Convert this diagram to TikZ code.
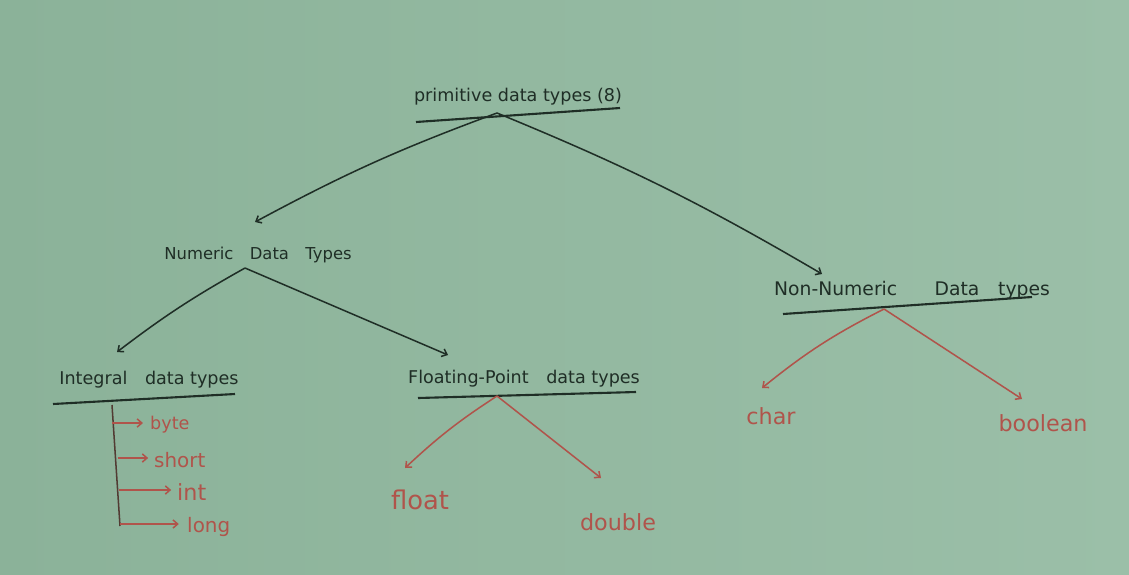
\documentclass[tikz,border=0pt]{standalone}
\usepackage{fontspec}
\setmainfont{DejaVu Sans}
\usetikzlibrary{arrows.meta}
\definecolor{board}{HTML}{8BB299}
\definecolor{boardr}{HTML}{9BBFA8}
\definecolor{ink}{HTML}{1F2E26}
\definecolor{redink}{HTML}{B0544B}
\tikzset{
  ink/.style={draw=ink, line width=1.3pt},
  uline/.style={draw=ink, line width=1.8pt},
  redline/.style={draw=redink, line width=1.3pt},
  inkarrow/.style={ink, -{Straight Barb[length=4pt,width=7pt]}},
  redarrow/.style={redline, -{Straight Barb[length=4pt,width=7pt]}},
  blacklabel/.style={text=ink, inner sep=0pt, font=\fontsize{15}{17}\selectfont},
  redlabel/.style={text=redink, inner sep=0pt, font=\fontsize{19}{21}\selectfont},
  smallred/.style={text=redink, inner sep=0pt, font=\fontsize{17}{19}\selectfont, anchor=west},
}
\begin{document}
\begin{tikzpicture}[x=0.03cm,y=-0.03cm]
\shade[left color=board, right color=boardr] (0,0) rectangle (1129,574);
\useasboundingbox (0,0) rectangle (1129,574);

% root
\node[blacklabel] (prim) at (518,97) {primitive data types (8)};
\coordinate (primL) at (416,122);
\coordinate (primR) at (620,108);
\draw[uline] (primL) -- (primR);
\coordinate (primApex) at (497,113);

% numeric
\node[blacklabel, font=\fontsize{14}{16}\selectfont] (num) at (258,255) {Numeric\quad Data\quad Types};
\coordinate (numTip) at (255,222);
\coordinate (numApex) at (245,268);

% non-numeric
\node[blacklabel, font=\fontsize{16}{18}\selectfont] (non) at (912,290) {Non-Numeric\qquad Data\quad types};
\coordinate (nonTip) at (822,274);
\coordinate (nonL) at (783,314);
\coordinate (nonR) at (1032,297);
\draw[uline] (nonL) -- (nonR);
\coordinate (nonApex) at (884,309);

\draw[inkarrow] (primApex) to[bend right=4] (numTip);
\draw[inkarrow] (primApex) to[bend left=4] (nonTip);

% integral
\node[blacklabel] (intg) at (149,380) {Integral\quad data types};
\coordinate (intL) at (53,404);
\coordinate (intR) at (235,394);
\draw[uline] (intL) -- (intR);
\coordinate (intTip) at (117,352);

% floating
\node[blacklabel] (flt) at (524,379) {Floating-Point\quad data types};
\coordinate (fltL) at (418,398);
\coordinate (fltR) at (636,392);
\draw[uline] (fltL) -- (fltR);
\coordinate (fltTip) at (448,355);
\coordinate (fltApex) at (497,396);

\draw[inkarrow] (numApex) to[bend right=4] (intTip);
\draw[inkarrow] (numApex) -- (fltTip);

% integral members
\coordinate (vTop) at (112,405);
\coordinate (vBot) at (120,526);
\draw[ink, draw=ink!65!redink] (vTop) -- (vBot);
\node[smallred, font=\fontsize{15}{17}\selectfont] (byte) at (150,425) {byte};
\node[smallred] (short) at (154,460) {short};
\node[smallred, font=\fontsize{19}{21}\selectfont] (int) at (177,492) {int};
\node[smallred] (long) at (187,527) {long};
\coordinate (bS) at (112.3,423);
\coordinate (sS) at (117.5,458);
\coordinate (iS) at (119,490);
\coordinate (lS) at (120,524);
\draw[redarrow] (bS) -- ([xshift=-6pt]bS -| byte.west);
\draw[redarrow] (sS) -- ([xshift=-5pt]sS -| short.west);
\draw[redarrow] (iS) -- ([xshift=-5pt]iS -| int.west);
\draw[redarrow] (lS) -- ([xshift=-7pt]lS -| long.west);

% floating members
\node[redlabel, font=\fontsize{22}{24}\selectfont] (float) at (420,500) {float};
\node[redlabel] (double) at (618,522) {double};
\coordinate (floatTip) at (405,468);
\coordinate (doubleTip) at (601,478);
\draw[redarrow] (fltApex) to[bend right=5] (floatTip);
\draw[redarrow] (fltApex) -- (doubleTip);

% non-numeric members
\node[redlabel] (char) at (771,416) {char};
\node[redlabel] (bool) at (1043,423) {boolean};
\coordinate (charTip) at (762,388);
\coordinate (boolTip) at (1022,399);
\draw[redarrow] (nonApex) to[bend right=6] (charTip);
\draw[redarrow] (nonApex) -- (boolTip);
\end{tikzpicture}
\end{document}
